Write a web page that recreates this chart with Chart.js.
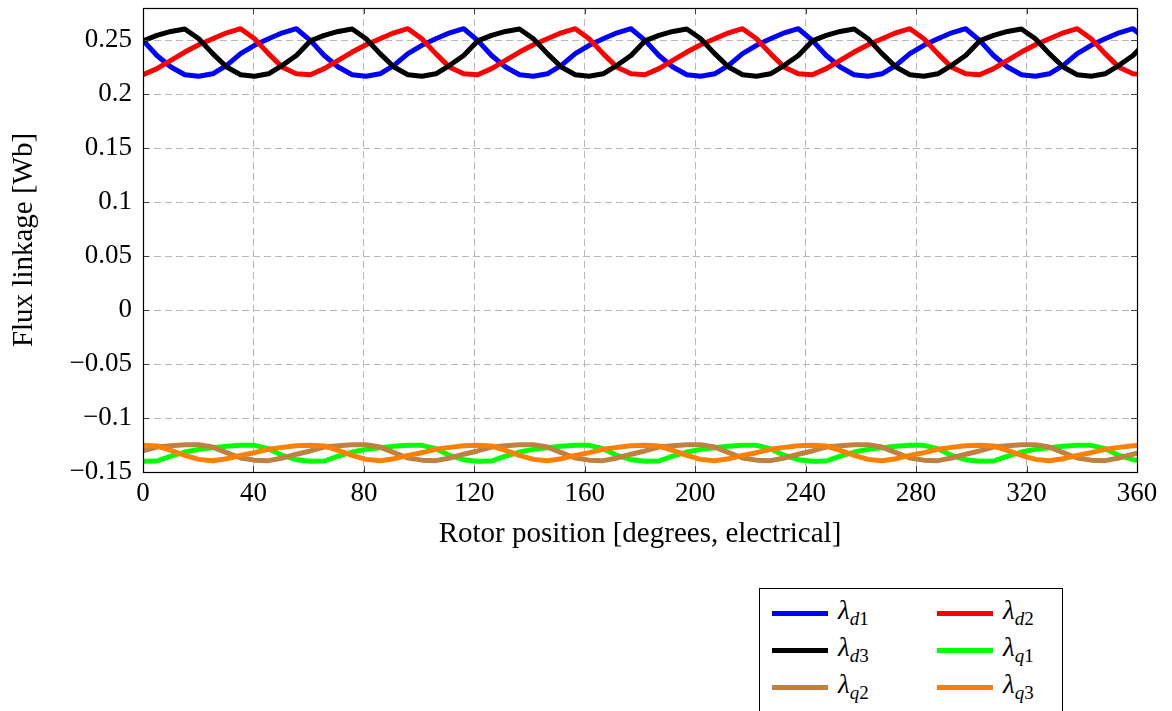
<!DOCTYPE html>
<html>
<head>
<meta charset="utf-8">
<script src="https://cdn.jsdelivr.net/npm/chart.js@4.4.1/dist/chart.umd.min.js"></script>
<style>
html,body{margin:0;padding:0;background:#fff;}
#wrap{position:relative;width:1172px;height:711px;overflow:hidden;background:#fff;}
#c{position:absolute;left:0;top:0;}
#legend{position:absolute;left:759px;top:588px;width:302px;height:150px;border:1px solid #000;background:#fff;font-family:'Liberation Serif',serif;color:#000;}
.sw{position:absolute;width:56px;height:5px;}
.lab{position:absolute;font-size:27px;line-height:27px;white-space:nowrap;}
.lab .l{font-style:italic;}
.lab sub{font-size:19px;vertical-align:-6px;line-height:0;}
.lab sub i{font-style:italic;}
</style>
</head>
<body>
<div id="wrap">
<canvas id="c" width="1172" height="711"></canvas>
<div id="legend"></div>
</div>
<script>
// Rotor position [degrees, electrical]
const rotorPos = [
  0, 5.05, 10.1, 15.15, 20.2, 25.25, 30.3, 35.35, 40.4, 45.45, 50.5, 55.55,
  60.6, 65.65, 70.7, 75.75, 80.8, 85.85, 90.9, 95.95, 101, 106.05, 111.1, 116.15,
  121.2, 126.25, 131.3, 136.35, 141.4, 146.45, 151.5, 156.55, 161.6, 166.65, 171.7, 176.75,
  181.8, 186.85, 191.9, 196.95, 202, 207.05, 212.1, 217.15, 222.2, 227.25, 232.3, 237.35,
  242.4, 247.45, 252.5, 257.55, 262.6, 267.65, 272.7, 277.75, 282.8, 287.85, 292.9, 297.95,
  303, 308.05, 313.1, 318.15, 323.2, 328.25, 333.3, 338.35, 343.4, 348.45, 353.5, 358.55,
  363.6
];
const lambdaD1 = [
  0.2500, 0.2360, 0.2253, 0.2182, 0.2167, 0.2190, 0.2269, 0.2377, 0.2454, 0.2515, 0.2570, 0.2608,
  0.2500, 0.2360, 0.2253, 0.2182, 0.2167, 0.2190, 0.2269, 0.2377, 0.2454, 0.2515, 0.2570, 0.2608,
  0.2500, 0.2360, 0.2253, 0.2182, 0.2167, 0.2190, 0.2269, 0.2377, 0.2454, 0.2515, 0.2570, 0.2608,
  0.2500, 0.2360, 0.2253, 0.2182, 0.2167, 0.2190, 0.2269, 0.2377, 0.2454, 0.2515, 0.2570, 0.2608,
  0.2500, 0.2360, 0.2253, 0.2182, 0.2167, 0.2190, 0.2269, 0.2377, 0.2454, 0.2515, 0.2570, 0.2608,
  0.2500, 0.2360, 0.2253, 0.2182, 0.2167, 0.2190, 0.2269, 0.2377, 0.2454, 0.2515, 0.2570, 0.2608,
  0.2500
];
const lambdaD2 = [
  0.2182, 0.2238, 0.2315, 0.2392, 0.2460, 0.2515, 0.2570, 0.2608, 0.2515, 0.2377, 0.2250, 0.2190,
  0.2182, 0.2238, 0.2315, 0.2392, 0.2460, 0.2515, 0.2570, 0.2608, 0.2515, 0.2377, 0.2250, 0.2190,
  0.2182, 0.2238, 0.2315, 0.2392, 0.2460, 0.2515, 0.2570, 0.2608, 0.2515, 0.2377, 0.2250, 0.2190,
  0.2182, 0.2238, 0.2315, 0.2392, 0.2460, 0.2515, 0.2570, 0.2608, 0.2515, 0.2377, 0.2250, 0.2190,
  0.2182, 0.2238, 0.2315, 0.2392, 0.2460, 0.2515, 0.2570, 0.2608, 0.2515, 0.2377, 0.2250, 0.2190,
  0.2182, 0.2238, 0.2315, 0.2392, 0.2460, 0.2515, 0.2570, 0.2608, 0.2515, 0.2377, 0.2250, 0.2190,
  0.2182
];
const lambdaD3 = [
  0.2495, 0.2546, 0.2583, 0.2605, 0.2515, 0.2377, 0.2253, 0.2182, 0.2167, 0.2190, 0.2269, 0.2360,
  0.2495, 0.2546, 0.2583, 0.2605, 0.2515, 0.2377, 0.2253, 0.2182, 0.2167, 0.2190, 0.2269, 0.2360,
  0.2495, 0.2546, 0.2583, 0.2605, 0.2515, 0.2377, 0.2253, 0.2182, 0.2167, 0.2190, 0.2269, 0.2360,
  0.2495, 0.2546, 0.2583, 0.2605, 0.2515, 0.2377, 0.2253, 0.2182, 0.2167, 0.2190, 0.2269, 0.2360,
  0.2495, 0.2546, 0.2583, 0.2605, 0.2515, 0.2377, 0.2253, 0.2182, 0.2167, 0.2190, 0.2269, 0.2360,
  0.2495, 0.2546, 0.2583, 0.2605, 0.2515, 0.2377, 0.2253, 0.2182, 0.2167, 0.2190, 0.2269, 0.2360,
  0.2495
];
const lambdaQ1 = [
  -0.1400, -0.1398, -0.1352, -0.1315, -0.1290, -0.1275, -0.1262, -0.1253, -0.1253, -0.1284, -0.1346, -0.1386,
  -0.1400, -0.1398, -0.1352, -0.1315, -0.1290, -0.1275, -0.1262, -0.1253, -0.1253, -0.1284, -0.1346, -0.1386,
  -0.1400, -0.1398, -0.1352, -0.1315, -0.1290, -0.1275, -0.1262, -0.1253, -0.1253, -0.1284, -0.1346, -0.1386,
  -0.1400, -0.1398, -0.1352, -0.1315, -0.1290, -0.1275, -0.1262, -0.1253, -0.1253, -0.1284, -0.1346, -0.1386,
  -0.1400, -0.1398, -0.1352, -0.1315, -0.1290, -0.1275, -0.1262, -0.1253, -0.1253, -0.1284, -0.1346, -0.1386,
  -0.1400, -0.1398, -0.1352, -0.1315, -0.1290, -0.1275, -0.1262, -0.1253, -0.1253, -0.1284, -0.1346, -0.1386,
  -0.1400
];
const lambdaQ2 = [
  -0.1305, -0.1269, -0.1256, -0.1247, -0.1247, -0.1269, -0.1320, -0.1370, -0.1390, -0.1395, -0.1370, -0.1335,
  -0.1305, -0.1269, -0.1256, -0.1247, -0.1247, -0.1269, -0.1320, -0.1370, -0.1390, -0.1395, -0.1370, -0.1335,
  -0.1305, -0.1269, -0.1256, -0.1247, -0.1247, -0.1269, -0.1320, -0.1370, -0.1390, -0.1395, -0.1370, -0.1335,
  -0.1305, -0.1269, -0.1256, -0.1247, -0.1247, -0.1269, -0.1320, -0.1370, -0.1390, -0.1395, -0.1370, -0.1335,
  -0.1305, -0.1269, -0.1256, -0.1247, -0.1247, -0.1269, -0.1320, -0.1370, -0.1390, -0.1395, -0.1370, -0.1335,
  -0.1305, -0.1269, -0.1256, -0.1247, -0.1247, -0.1269, -0.1320, -0.1370, -0.1390, -0.1395, -0.1370, -0.1335,
  -0.1305
];
const lambdaQ3 = [
  -0.1253, -0.1259, -0.1300, -0.1346, -0.1383, -0.1395, -0.1377, -0.1346, -0.1321, -0.1290, -0.1272, -0.1256,
  -0.1253, -0.1259, -0.1300, -0.1346, -0.1383, -0.1395, -0.1377, -0.1346, -0.1321, -0.1290, -0.1272, -0.1256,
  -0.1253, -0.1259, -0.1300, -0.1346, -0.1383, -0.1395, -0.1377, -0.1346, -0.1321, -0.1290, -0.1272, -0.1256,
  -0.1253, -0.1259, -0.1300, -0.1346, -0.1383, -0.1395, -0.1377, -0.1346, -0.1321, -0.1290, -0.1272, -0.1256,
  -0.1253, -0.1259, -0.1300, -0.1346, -0.1383, -0.1395, -0.1377, -0.1346, -0.1321, -0.1290, -0.1272, -0.1256,
  -0.1253, -0.1259, -0.1300, -0.1346, -0.1383, -0.1395, -0.1377, -0.1346, -0.1321, -0.1290, -0.1272, -0.1256,
  -0.1253
];
const seriesSubLetters = ['d', 'd', 'd', 'q', 'q', 'q'];
const seriesSubDigits = ['1', '2', '3', '1', '2', '3'];
const seriesColors = ['#0000ff', '#ff0000', '#000000', '#00ff00', '#bf8040', '#ff8000'];
const xTicks = [0, 40, 80, 120, 160, 200, 240, 280, 320, 360];
const xTickLabels = ['0', '40', '80', '120', '160', '200', '240', '280', '320', '360'];
const yTicks = [-0.15, -0.1, -0.05, 0, 0.05, 0.1, 0.15, 0.2, 0.25];
const yTickLabels = ['\u22120.15', '\u22120.1', '\u22120.05', '0', '0.05', '0.1', '0.15', '0.2', '0.25'];

const seriesValues = [lambdaD1, lambdaD2, lambdaD3, lambdaQ1, lambdaQ2, lambdaQ3];
const FONT = "'Liberation Serif', 'Times New Roman', serif";

const datasets = seriesValues.map((vals, i) => ({
  label: '\u03bb' + seriesSubLetters[i] + seriesSubDigits[i],
  data: rotorPos.map((x, j) => ({x: x, y: vals[j]})),
  borderColor: seriesColors[i],
  backgroundColor: seriesColors[i],
  borderWidth: 5,
  borderJoinStyle: 'round',
  pointRadius: 0,
  tension: 0,
  fill: false,
  clip: 0,
  order: seriesValues.length - 1 - i
}));

function idxOf(arr, v) { return arr.findIndex(t => Math.abs(t - v) < 1e-9); }

const framePlugin = {
  id: 'frame',
  afterDatasetsDraw(chart) {
    const ctx = chart.ctx, a = chart.chartArea, xs = chart.scales.x, ys = chart.scales.y;
    ctx.save();
    ctx.strokeStyle = '#444';
    ctx.lineWidth = 1;
    ctx.beginPath();
    xTicks.forEach(v => {
      const p = Math.round(xs.getPixelForValue(v)) + 0.5;
      ctx.moveTo(p, a.bottom); ctx.lineTo(p, a.bottom - 6);
      ctx.moveTo(p, a.top); ctx.lineTo(p, a.top + 6);
    });
    yTicks.forEach(v => {
      const p = Math.round(ys.getPixelForValue(v)) + 0.5;
      ctx.moveTo(a.left, p); ctx.lineTo(a.left + 6, p);
      ctx.moveTo(a.right, p); ctx.lineTo(a.right - 6, p);
    });
    ctx.stroke();
    ctx.strokeStyle = '#000';
    ctx.lineWidth = 1.2;
    ctx.strokeRect(Math.round(a.left) + 0.5, Math.round(a.top) + 0.5, Math.round(a.right - a.left), Math.round(a.bottom - a.top));
    ctx.restore();
  }
};

new Chart(document.getElementById('c'), {
  type: 'line',
  data: {datasets: datasets},
  plugins: [framePlugin],
  options: {
    responsive: false,
    animation: false,
    devicePixelRatio: 1,
    layout: {padding: {left: 0, top: 8, right: 35, bottom: 0}},
    plugins: {legend: {display: false}, tooltip: {enabled: false}},
    scales: {
      x: {
        type: 'linear', min: 0, max: 360,
        afterBuildTicks: s => { s.ticks = xTicks.map(v => ({value: v})); },
        afterFit: s => { s.height = 239; s.paddingLeft = 0; s.paddingRight = 0; },
        ticks: {
          autoSkip: false, maxRotation: 0, padding: 6, color: '#000',
          font: {family: FONT, size: 27},
          callback: v => xTickLabels[idxOf(xTicks, v)]
        },
        grid: {color: '#b8b8b8', lineWidth: 1, drawTicks: false},
        border: {display: false, dash: [7, 4]},
        title: {
          display: true, text: 'Rotor position [degrees, electrical]', color: '#000',
          font: {family: FONT, size: 29}, padding: {top: 0, bottom: 159}
        }
      },
      y: {
        type: 'linear', min: -0.15, max: 0.28,
        afterBuildTicks: s => { s.ticks = yTicks.map(v => ({value: v})); },
        afterFit: s => { s.width = 143; s.paddingTop = 0; s.paddingBottom = 0; },
        ticks: {
          autoSkip: false, padding: 11, color: '#000',
          font: {family: FONT, size: 27},
          callback: v => yTickLabels[idxOf(yTicks, v)]
        },
        grid: {color: '#b8b8b8', lineWidth: 1, drawTicks: false},
        border: {display: false, dash: [7, 4]},
        title: {
          display: true, text: 'Flux linkage [Wb]', color: '#000',
          font: {family: FONT, size: 29}, padding: {top: 7, bottom: 0}
        }
      }
    }
  }
});

// Legend (two columns, bottom right)
const legend = document.getElementById('legend');
const rowY = [24, 61, 98];
const colLine = [12, 177];
const colText = [78, 243];
seriesColors.forEach((col, i) => {
  const r = Math.floor(i / 2), c = i % 2;
  const sw = document.createElement('div');
  sw.className = 'sw';
  sw.style.left = colLine[c] + 'px';
  sw.style.top = (rowY[r] - 2.5) + 'px';
  sw.style.background = col;
  legend.appendChild(sw);
  const lab = document.createElement('div');
  lab.className = 'lab';
  lab.style.left = colText[c] + 'px';
  lab.style.top = (rowY[r] - 16) + 'px';
  lab.innerHTML = '<span class="l">\u03bb</span><sub><i>' + seriesSubLetters[i] + '</i>' + seriesSubDigits[i] + '</sub>';
  legend.appendChild(lab);
});
</script>
</body>
</html>
